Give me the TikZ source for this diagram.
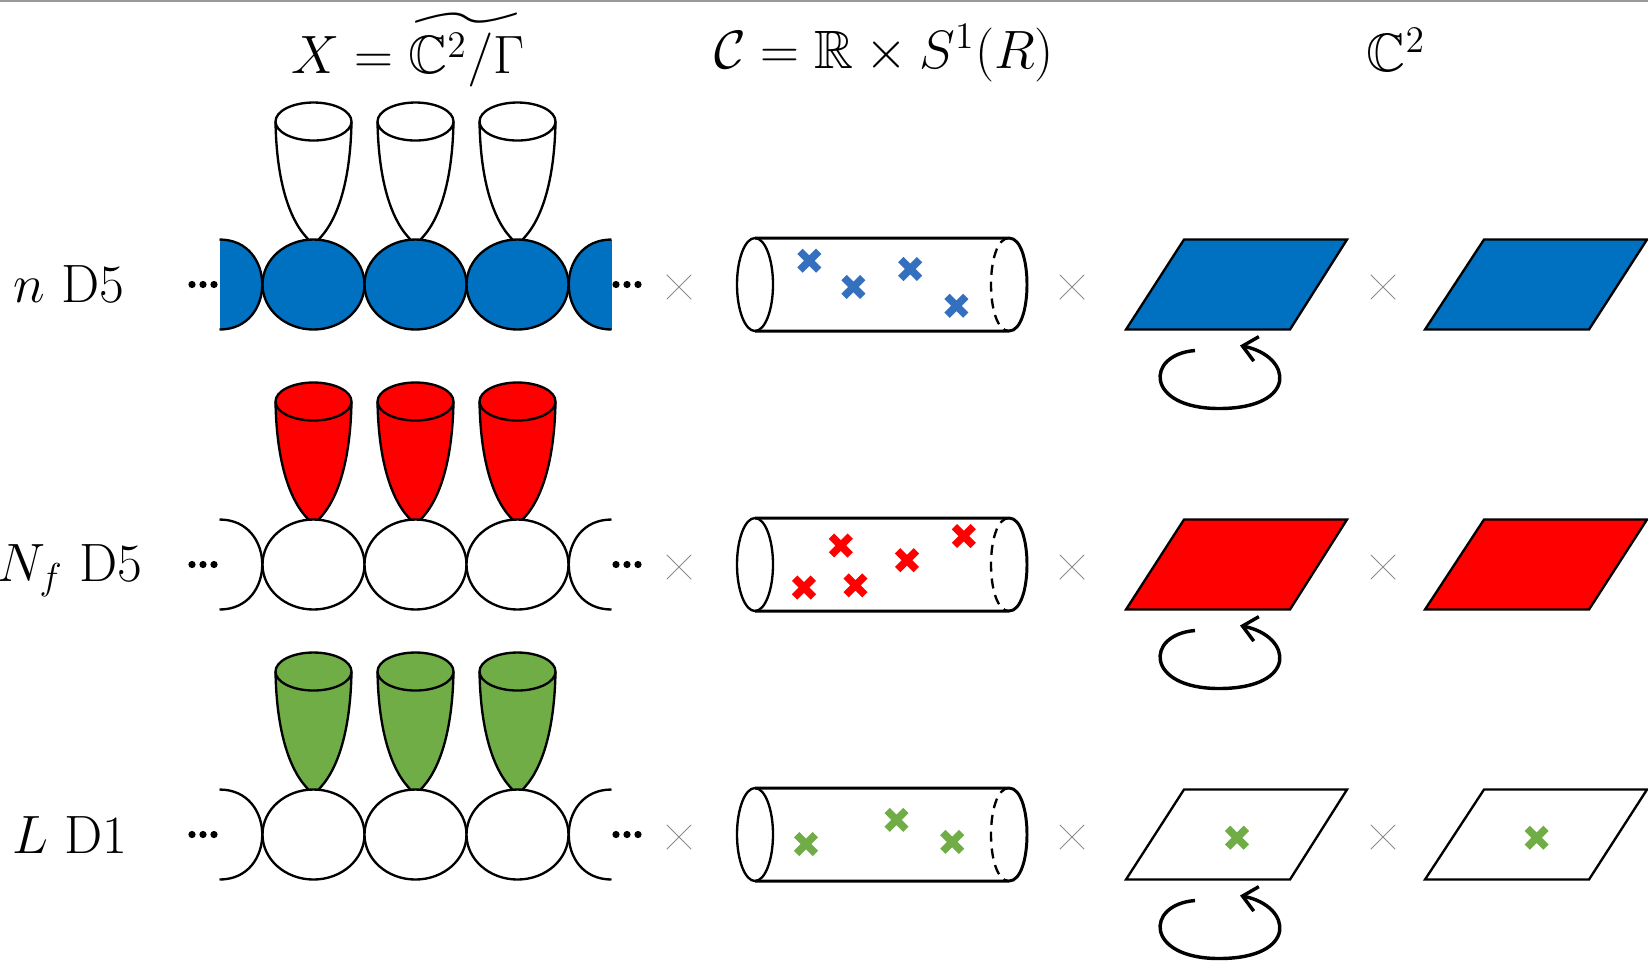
\documentclass[tikz,border=0pt]{standalone}
\usepackage{amsmath,amssymb}
\usepackage{xcolor}
\usetikzlibrary{arrows.meta,shapes.misc,shapes.geometric}
\definecolor{rowblue}{RGB}{0,112,192}
\definecolor{rowred}{RGB}{255,0,0}
\definecolor{rowgreen}{RGB}{112,173,71}
\definecolor{markblue}{RGB}{52,112,190}
\tikzset{
  cup/.pic={
    \draw[line,fill=#1] (-38,0) .. controls (-37,60) and (-24,100) .. (-4,119)
      -- (4,119) .. controls (24,100) and (37,60) .. (38,0);
    \draw[line,fill=#1] (0,0) ellipse [x radius=38, y radius=19];
  },
  tube/.pic={
    \draw[line] (-127,0) ellipse [x radius=18, y radius=46.5];
    \draw[line width=0.95pt] (-127,-46.5) -- (127,-46.5) .. controls (151,-46.5) and (151,46.5) .. (127,46.5) -- (-127,46.5);
    \draw[line,dash pattern=on 3.2pt off 2.2pt] (127,-46.5) .. controls (103,-46.5) and (103,46.5) .. (127,46.5);
  },
  leftcap/.pic={
    \fill[#1] (0,-45) .. controls (57,-45) and (57,45) .. (0,45) -- cycle;
    \draw[line] (0,-45) .. controls (57,-45) and (57,45) .. (0,45);
  },
  rightcap/.pic={
    \fill[#1] (0,-45) .. controls (-57,-45) and (-57,45) .. (0,45) -- cycle;
    \draw[line] (0,-45) .. controls (-57,-45) and (-57,45) .. (0,45);
  }
}
\begin{document}
\begin{tikzpicture}[
    x=0.32pt,
    y=-0.32pt,
    line/.style={black,line width=0.75pt},
    label/.style={font=\LARGE,inner sep=0pt},
    plane/.style={line,line join=miter},
    times/.style={cross out,draw=black!45,line width=0.3pt,minimum size=7.5pt,inner sep=0pt},
    mark/.style={cross out,draw=#1,line width=2.4pt,minimum size=3.6pt,inner sep=0pt},
    turn/.style={black,line width=1.1pt,-{Straight Barb[length=4.5pt,width=8pt]}}
  ]
    \useasboundingbox (0,0) rectangle (1648,963);
    \draw[black!40,line width=0.5pt] (0,1) -- (1648,1);

    \node[label] (title-x) at (408,50) {$X=\widetilde{\mathbb{C}^2/\Gamma}$};
    \node[label] (title-c) at (884,53) {$\mathcal{C}=\mathbb{R}\times S^1(R)$};
    \node[label] (title-t) at (1396,50) {$\mathbb{C}^2$};

    \node[label] (row-n) at (69,284) {$n$ D5};
    \node[label] (row-f) at (70,571) {$N_f$ D5};
    \node[label] (row-l) at (70,835) {$L$ D1};

    \foreach \cy/\cupcol/\ballcol/\planecol in {284.5/white/rowblue/rowblue,564.5/rowred/white/rowred,834.5/rowgreen/white/white} {
      \foreach \cx in {313.5,415.5,517.5} {
        \pic at (\cx,\cy-163) {cup=\cupcol};
        \draw[line,fill=\ballcol] (\cx,\cy) ellipse [x radius=51, y radius=45];
      }
      \pic at (219.5,\cy) {leftcap=\ballcol};
      \pic at (611.5,\cy) {rightcap=\ballcol};
      \foreach \dx in {0,11,22} {
        \fill (192+\dx,\cy) circle [radius=3.6];
        \fill (616+\dx,\cy) circle [radius=3.6];
      }
      \pic at (882,\cy) {tube};
      \node[times] at (679,\cy+2.5) {};
      \node[times] at (1072,\cy+2.5) {};
      \node[times] at (1383,\cy+2.5) {};
      \draw[plane,fill=\planecol] (1126,\cy+45) -- (1184,\cy-45) -- (1347,\cy-45) -- (1290,\cy+45) -- cycle;
      \draw[plane,fill=\planecol] (1425,\cy+45) -- (1484,\cy-45) -- (1647,\cy-45) -- (1589,\cy+45) -- cycle;
      \draw[turn] (1195,\cy+66) .. controls (1145,\cy+70) and (1145,\cy+124) .. (1219,\cy+124) .. controls (1298,\cy+124) and (1293,\cy+72) .. (1240,\cy+61);
    }

    \foreach \mx/\my in {809.3/260.7,853.4/286.9,910.2/269,956.4/305.8}
      \node[mark=markblue] at (\mx,\my) {};
    \foreach \mx/\my in {840.8/545.5,907/560.2,963.8/536,804/587.5,855.5/585.4}
      \node[mark=rowred] at (\mx,\my) {};
    \foreach \mx/\my in {806/844,896.5/819.8,952.2/841.9,1237/837.7,1536.6/837.7}
      \node[mark=rowgreen] at (\mx,\my) {};
  \end{tikzpicture}
\end{document}
